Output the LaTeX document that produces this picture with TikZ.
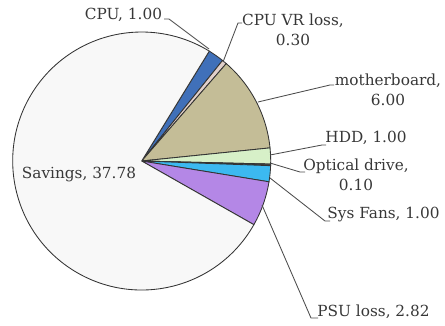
\documentclass[tikz,border=0pt]{standalone}
\usepackage{fontspec}
\setmainfont{DejaVu Serif}
\definecolor{cpuc}{RGB}{64,112,185}
\definecolor{cvrc}{RGB}{225,208,202}
\definecolor{mbc}{RGB}{196,189,151}
\definecolor{hddc}{RGB}{215,240,200}
\definecolor{optc}{RGB}{70,70,70}
\definecolor{fanc}{RGB}{60,185,240}
\definecolor{psuc}{RGB}{180,135,230}
\definecolor{savc}{RGB}{248,248,248}
\definecolor{txt}{RGB}{55,55,55}
\begin{document}
\begin{tikzpicture}[x=1pt,y=1pt,
  slice/.style={draw=black!80, line width=0.85pt},
  lbl/.style={font=\fontsize{15.3}{20}\selectfont, text=txt, inner sep=0pt, align=center},
  leader/.style={draw=black!70, line width=0.85pt}]
\useasboundingbox (0,0) rectangle (445,325);
\coordinate (C) at (141.7,164);
\def\R{129}
\foreach \a/\b/\c in {58.4/51.2/cpuc, 51.2/49.04/cvrc, 49.04/5.84/mbc, 5.84/-1.36/hddc, -1.36/-2.08/optc, -2.08/-9.28/fanc, -9.28/-29.58/psuc, -29.58/-301.6/savc}
  {\filldraw[slice, fill=\c] (C) -- ++(\a:\R) arc[start angle=\a, end angle=\b, radius=\R] -- cycle;}
% labels
\node[lbl] (cpu) at (123.5,310) {CPU, 1.00};
\node[lbl] (cvr) at (293,295) {CPU VR loss,\\0.30};
\node[lbl] (mb) at (388,235) {motherboard,\\6.00};
\node[lbl] (hdd) at (366,187) {HDD, 1.00};
\node[lbl] (opt) at (356,150) {Optical drive,\\0.10};
\node[lbl] (fan) at (383.5,110) {Sys Fans, 1.00};
\node[lbl] (psu) at (373.5,13) {PSU loss, 2.82};
\node[lbl] (sav) at (79,150) {Savings, 37.78};
% leader points
\coordinate (cpuP) at (209,276); \coordinate (cpuK) at (169,306); \coordinate (cpuE) at (164,306);
\coordinate (cvrP) at (223,263); \coordinate (cvrK) at (238,302); \coordinate (cvrE) at (242,302);
\coordinate (mbP) at (258,223); \coordinate (mbK) at (330,240); \coordinate (mbE) at (334,240);
\coordinate (hddP) at (270,170); \coordinate (hddK) at (322,180); \coordinate (hddE) at (326,180);
\coordinate (optP) at (270,162); \coordinate (optK) at (300,153); \coordinate (optE) at (305,153);
\coordinate (fanP) at (270,147); \coordinate (fanK) at (325,104); \coordinate (fanE) at (330,104);
\coordinate (psuP) at (262,120); \coordinate (psuK) at (311,7); \coordinate (psuE) at (318,7);
\foreach \n in {cpu,cvr,mb,hdd,opt,fan,psu}
  {\draw[leader] (\n P) -- (\n K) -- (\n E);}
\end{tikzpicture}
\end{document}
